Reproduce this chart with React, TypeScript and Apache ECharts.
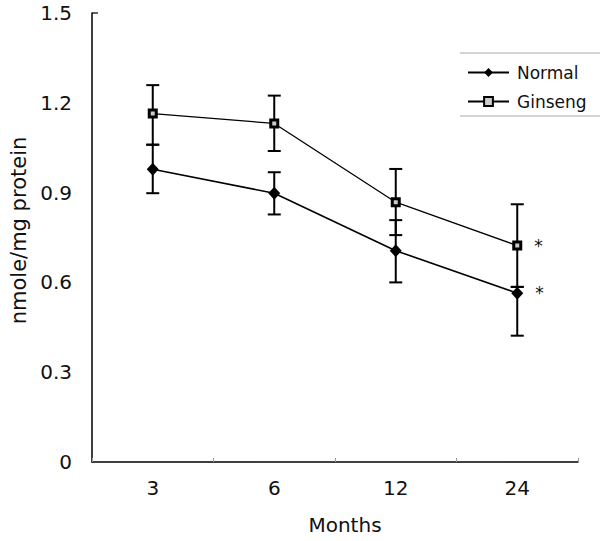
import React, { useEffect, useRef } from "react";
import * as echarts from "echarts";

const categories = ["3", "6", "12", "24"];
const normalMean = [0.978, 0.898, 0.706, 0.564];
const normalLow = [0.898, 0.827, 0.6, 0.422];
const normalHigh = [1.06, 0.968, 0.808, 0.585];
const ginsengMean = [1.164, 1.131, 0.868, 0.723];
const ginsengLow = [1.06, 1.039, 0.758, 0.585];
const ginsengHigh = [1.259, 1.224, 0.979, 0.861];
const yTicks = { min: 0, max: 1.5, interval: 0.3 };
const significant = [false, false, false, true];

const FONT = "DejaVu Sans";

function errorSeries(low: number[], high: number[]) {
  return {
    type: "custom",
    silent: true,
    z: 1,
    data: low.map((l, i) => [i, l, high[i]]),
    renderItem: (params: any, api: any) => {
      const x = api.value(0);
      const lo = api.coord([x, api.value(1)]);
      const hi = api.coord([x, api.value(2)]);
      const hw = 6.5;
      const style = { stroke: "#000", lineWidth: 2 };
      return {
        type: "group",
        children: [
          { type: "line", shape: { x1: lo[0], y1: lo[1], x2: hi[0], y2: hi[1] }, style },
          { type: "line", shape: { x1: lo[0] - hw, y1: lo[1], x2: lo[0] + hw, y2: lo[1] }, style },
          { type: "line", shape: { x1: hi[0] - hw, y1: hi[1], x2: hi[0] + hw, y2: hi[1] }, style },
        ],
      };
    },
  };
}

function withStars(values: number[]) {
  return values.map((v, i) =>
    significant[i]
      ? {
          value: v,
          label: {
            show: true,
            formatter: "*",
            position: "right",
            distance: 12,
            fontSize: 17,
            color: "#111",
            fontFamily: FONT,
          },
        }
      : v
  );
}

export default function App() {
  const ref = useRef<HTMLDivElement>(null);
  useEffect(() => {
    const chart = echarts.init(ref.current!, null, { renderer: "svg" });
    chart.setOption({
      animation: false,
      backgroundColor: "#fff",
      textStyle: { fontFamily: FONT },
      grid: { left: 92, right: 24, top: 13, bottom: 79, outerBoundsMode: "none", containLabel: false },
      legend: {
        orient: "vertical",
        left: 467,
        top: 64,
        padding: 0,
        itemWidth: 41,
        itemHeight: 11,
        itemGap: 12,
        textStyle: { fontSize: 17, color: "#111", fontFamily: FONT, padding: [0, 0, 0, 3] },
        data: ["Normal", "Ginseng"],
      },
      graphic: [
        { type: "line", shape: { x1: 460, y1: 53, x2: 600, y2: 53 }, style: { stroke: "#aaa", lineWidth: 1 } },
        { type: "line", shape: { x1: 460, y1: 116, x2: 600, y2: 116 }, style: { stroke: "#aaa", lineWidth: 1 } },
        { type: "line", shape: { x1: 92, y1: 13, x2: 98, y2: 13 }, style: { stroke: "#000", lineWidth: 1.2 } },
      ],
      xAxis: {
        type: "category",
        data: categories,
        boundaryGap: true,
        name: "Months",
        nameLocation: "middle",
        nameGap: 53,
        nameTextStyle: { fontSize: 20, color: "#111", fontFamily: FONT, padding: [0, 0, 0, 20] },
        axisLine: { lineStyle: { color: "#000", width: 1.5 } },
        axisTick: { show: true, inside: true, length: 4, lineStyle: { color: "#999" } },
        axisLabel: { fontSize: 20, color: "#111", margin: 16, fontFamily: FONT },
      },
      yAxis: {
        type: "value",
        min: yTicks.min,
        max: yTicks.max,
        interval: yTicks.interval,
        name: "nmole/mg protein",
        nameLocation: "middle",
        nameRotate: 90,
        nameGap: 61,
        nameTextStyle: { fontSize: 21, color: "#111", fontFamily: FONT, padding: [0, 0, 0, 14] },
        splitLine: { show: false },
        axisLine: { show: true, lineStyle: { color: "#000", width: 1.5 } },
        axisTick: { show: false },
        axisLabel: {
          fontSize: 20,
          color: "#111",
          margin: 20,
          fontFamily: FONT,
          formatter: (v: number) => (v === 0 ? "0" : v.toFixed(1)),
        },
      },
      series: [
        errorSeries(normalLow, normalHigh),
        errorSeries(ginsengLow, ginsengHigh),
        {
          name: "Normal",
          type: "line",
          z: 3,
          data: withStars(normalMean),
          symbol: "diamond",
          symbolSize: [12, 13],
          lineStyle: { color: "#000", width: 1.6 },
          itemStyle: { color: "#000" },
        },
        {
          name: "Ginseng",
          type: "line",
          z: 3,
          data: withStars(ginsengMean),
          symbol: "rect",
          symbolSize: 7,
          lineStyle: { color: "#000", width: 1.3 },
          itemStyle: { color: "#ccc", borderColor: "#000", borderWidth: 3 },
        },
      ],
    });
    return () => chart.dispose();
  }, []);
  return (
    <div
      ref={ref}
      style={{ position: "fixed", left: 0, top: 0, width: 602, height: 541 }}
    />
  );
}
